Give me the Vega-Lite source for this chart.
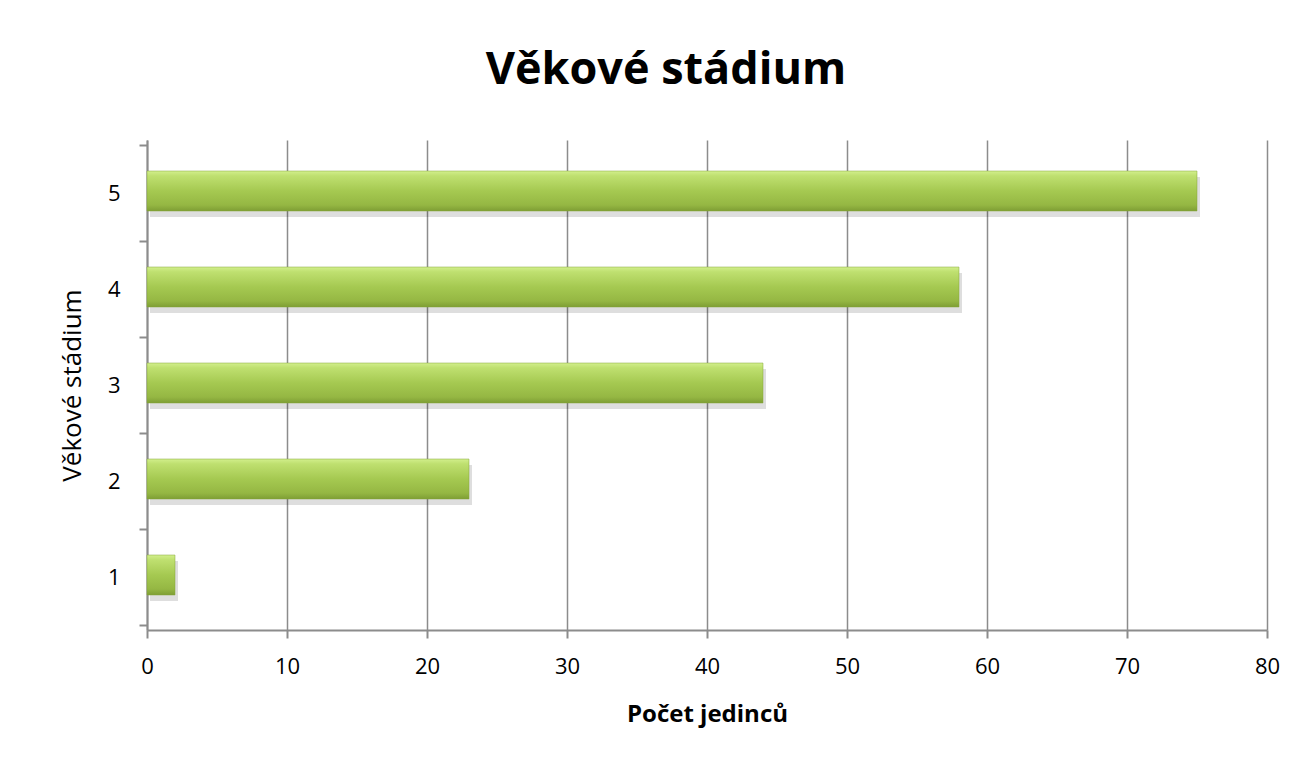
{
  "$schema": "https://vega.github.io/schema/vega-lite/v6.json",
  "autosize": {"type": "none"},
  "width": 1120,
  "height": 490,
  "padding": {"left": 147, "top": 140, "right": 27, "bottom": 137},
  "background": "white",
  "title": {
    "text": "Věkové stádium",
    "font": "Open Sans",
    "fontSize": 45,
    "fontWeight": "bold",
    "color": "#000000",
    "anchor": "middle",
    "dx": -41,
    "baseline": "bottom",
    "offset": -4
  },
  "config": {"view": {"stroke": null}},
  "data": {
    "values": [
      {"stadium": 1, "pocet": 2},
      {"stadium": 2, "pocet": 23},
      {"stadium": 3, "pocet": 44},
      {"stadium": 4, "pocet": 58},
      {"stadium": 5, "pocet": 75}
    ]
  },
  "encoding": {
    "x": {
      "field": "pocet",
      "type": "quantitative",
      "scale": {"domain": [0, 80], "nice": false},
      "axis": {
        "values": [0, 10, 20, 30, 40, 50, 60, 70, 80],
        "grid": true,
        "gridColor": "#8c8c8c",
        "gridWidth": 1.5,
        "domainColor": "#8c8c8c",
        "domainWidth": 2,
        "tickColor": "#8c8c8c",
        "tickWidth": 2,
        "tickSize": 8,
        "labelFont": "Open Sans",
        "labelFontSize": 22,
        "labelColor": "#000000",
        "labelPadding": 18,
        "labelFlush": false,
        "labelOverlap": false,
        "title": "Počet jedinců",
        "titleFont": "Open Sans",
        "titleFontSize": 24,
        "titleFontWeight": "bold",
        "titleColor": "#000000",
        "titlePadding": 25
      }
    },
    "y": {
      "field": "stadium",
      "type": "quantitative",
      "scale": {"domain": [0.5, 5.5], "nice": false, "zero": false},
      "axis": {
        "values": [0.5, 1, 1.5, 2, 2.5, 3, 3.5, 4, 4.5, 5, 5.5],
        "grid": false,
        "domainColor": "#8c8c8c",
        "domainWidth": 2,
        "tickColor": "#8c8c8c",
        "tickWidth": 2,
        "tickSize": 8,
        "tickOpacity": {"condition": {"test": "datum.value % 1 == 0", "value": 0}, "value": 1},
        "labelExpr": "datum.value % 1 == 0 ? format(datum.value, 'd') : ''",
        "labelFont": "Open Sans",
        "labelFontSize": 22,
        "labelColor": "#000000",
        "labelPadding": 19,
        "labelFlush": false,
        "labelOverlap": false,
        "title": "Věkové stádium",
        "titleFont": "Open Sans",
        "titleFontSize": 26,
        "titleFontWeight": "normal",
        "titleColor": "#000000",
        "titlePadding": 22
      }
    }
  },
  "layer": [
    {
      "mark": {"type": "bar", "orient": "horizontal", "size": 40, "color": "#000000", "opacity": 0.13, "xOffset": 3, "yOffset": 4}
    },
    {
      "mark": {
        "type": "bar",
        "orient": "horizontal",
        "size": 40,
        "yOffset": -2,
        "color": {
          "gradient": "linear",
          "x1": 0, "y1": 0, "x2": 0, "y2": 1,
          "stops": [
            {"offset": 0, "color": "#d2ef8c"},
            {"offset": 0.12, "color": "#bfe070"},
            {"offset": 0.5, "color": "#a5c951"},
            {"offset": 0.85, "color": "#95b743"},
            {"offset": 1, "color": "#7e9e34"}
          ]
        },
        "stroke": "#86a63a",
        "strokeWidth": 0.5
      }
    }
  ]
}
